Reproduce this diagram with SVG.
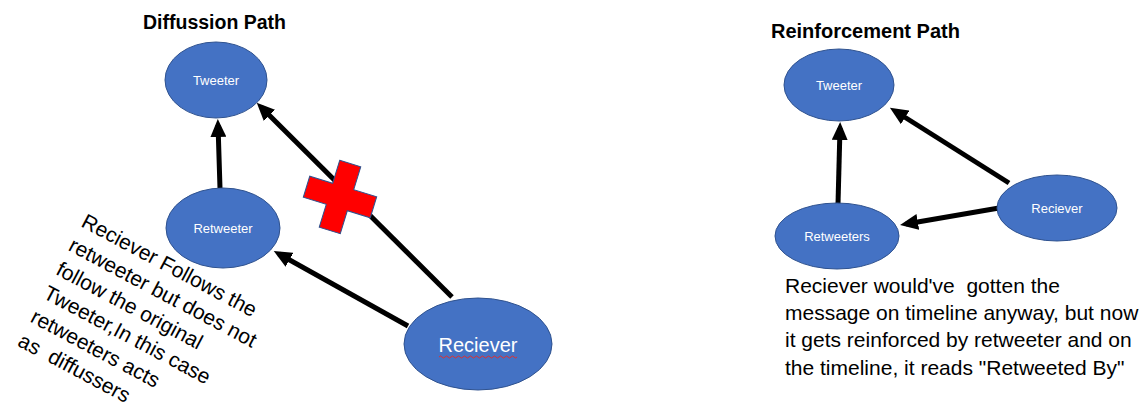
<svg xmlns="http://www.w3.org/2000/svg" width="1144" height="407" viewBox="0 0 1144 407">
<style>
.node{fill:#4472C4;stroke:#2F528F;stroke-width:1}
.lbl{fill:#fff;font-family:"Liberation Sans",Arial,sans-serif;font-size:13px;text-anchor:middle}
.title{fill:#000;font-family:"Liberation Sans",Arial,sans-serif;font-size:19.5px;font-weight:bold}
.body{fill:#000;font-family:"Liberation Sans",Arial,sans-serif;font-size:21px;white-space:pre}
.conn{stroke:#000;stroke-width:5;fill:none;marker-end:url(#ah)}
</style>
<defs>
<marker id="ah" markerUnits="userSpaceOnUse" markerWidth="18" markerHeight="16" viewBox="0 0 18 16" refX="12" refY="8" orient="auto">
<path d="M0,0 L18,8 L0,16 z" fill="#000"/>
</marker>
</defs>
<rect width="1144" height="407" fill="#fff"/>
<text class="title" x="143" y="29">Diffussion Path</text>
<text class="title" x="771" y="38" style="font-size:20px">Reinforcement Path</text>
<g id="connectors">
<line class="conn" x1="220" y1="188" x2="218" y2="125"/>
<line class="conn" x1="452" y1="297" x2="261" y2="107"/>
<line class="conn" x1="408" y1="326" x2="279" y2="254"/>
<line class="conn" x1="838" y1="204" x2="840" y2="128"/>
<line class="conn" x1="1009" y1="183" x2="895" y2="111"/>
<line class="conn" x1="999" y1="208" x2="906" y2="224"/>
</g>
<g id="d-tweeter"><ellipse class="node" cx="216" cy="80" rx="51" ry="38"/><text class="lbl" x="216" y="85">Tweeter</text></g>
<g id="d-retweeter"><ellipse class="node" cx="223" cy="228" rx="57" ry="40"/><text class="lbl" x="223" y="233">Retweeter</text></g>
<g id="d-reciever"><ellipse class="node" cx="478" cy="344" rx="74" ry="46"/><text class="lbl" x="478" y="352" style="font-size:20px">Reciever</text>
<path d="M439,357 q1.5,-2 3,0 t3,0 t3,0 t3,0 t3,0 t3,0 t3,0 t3,0 t3,0 t3,0 t3,0 t3,0 t3,0 t3,0 t3,0 t3,0 t3,0 t3,0 t3,0 t3,0 t3,0 t3,0 t3,0 t3,0 t3,0 t3,0" fill="none" stroke="#E03030" stroke-width="1"/></g>
<g id="cross"><polygon transform="translate(340,197) rotate(17)" points="-11,-35 11,-35 11,-11 35,-11 35,11 11,11 11,35 -11,35 -11,11 -35,11 -35,-11 -11,-11" fill="#FF0000" stroke="#2F528F" stroke-width="1"/></g>
<g id="d-note"><text class="body" transform="translate(80,226) rotate(28)"><tspan x="0" y="0">Reciever Follows the</tspan><tspan x="0" y="27">retweeter but does not</tspan><tspan x="0" y="54">follow the original</tspan><tspan x="0" y="81">Tweeter,In this case</tspan><tspan x="0" y="108">retweeters acts</tspan><tspan x="0" y="135">as  diffussers</tspan></text></g>
<g id="r-tweeter"><ellipse class="node" cx="839" cy="85" rx="55" ry="36"/><text class="lbl" x="839" y="90">Tweeter</text></g>
<g id="r-retweeters"><ellipse class="node" cx="837" cy="236" rx="62" ry="33"/><text class="lbl" x="837" y="241">Retweeters</text></g>
<g id="r-reciever"><ellipse class="node" cx="1057" cy="208" rx="60" ry="33"/><text class="lbl" x="1057" y="213">Reciever</text></g>
<g id="r-note"><text class="body"><tspan x="785" y="293">Reciever would've  gotten the</tspan><tspan x="785" y="320">message on timeline anyway, but now</tspan><tspan x="785" y="347">it gets reinforced by retweeter and on</tspan><tspan x="785" y="375">the timeline, it reads "Retweeted By"</tspan></text></g>
</svg>
